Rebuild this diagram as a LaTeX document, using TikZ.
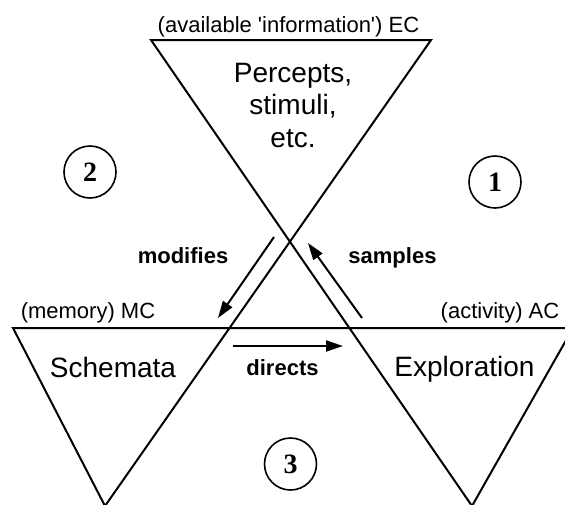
\documentclass[tikz,border=0pt]{standalone}
\usepackage{fontspec}
\setmainfont{Liberation Sans}
\newfontfamily\plainfont{Liberation Sans}
\newfontfamily\numfont{Liberation Serif}
\usetikzlibrary{arrows.meta}
\begin{document}
\begin{tikzpicture}[x=1pt,y=-1pt,
  tri/.style={line width=2pt, line join=miter},
  flow/.style={line width=2pt, -{Triangle[length=17pt,width=11pt]}},
  lab/.style={font=\fontsize{22}{26}\selectfont\plainfont, anchor=base, inner sep=0pt},
  blab/.style={font=\fontsize{22}{26}\selectfont\bfseries, anchor=base, inner sep=0pt},
  big/.style={font=\fontsize{28}{32.5}\selectfont, align=center, inner sep=0pt},
  num/.style={circle, draw, line width=1.6pt, minimum size=52pt, inner sep=0pt,
              font=\fontsize{28}{28}\selectfont\numfont\bfseries}]
\useasboundingbox (0,0) rectangle (565,504);
\begin{scope}
\clip (0,0) rectangle (565,504);
\draw[tri] (13,328) -- (105,506) -- (431,40) -- (151,40) -- (472,506) -- (573,328) -- cycle;
\end{scope}
% labels
\node[lab] (ec) at (288.5,32) {(available 'information') EC};
\node[lab] (mc) at (88,318) {(memory) MC};
\node[lab] (ac) at (500,318) {(activity) AC};
\node[big, anchor=base] (perc) at (293,147) {Percepts,\\stimuli,\\etc.};
\node[big, anchor=base] (sch) at (113,377) {Schemata};
\node[big, anchor=base] (exp) at (464.5,376) {Exploration};
\node[blab] (mod) at (183,263) {modifies};
\node[blab] (samp) at (392.5,263) {samples};
\node[blab] (dir) at (282.5,375) {directs};
% circled numbers
\node[num] (n1) at (495,182) {1};
\node[num] (n2) at (90,172) {2};
\node[num] (n3) at (290.5,464) {3};
% arrows
\coordinate (m1) at (274,237);
\coordinate (m2) at (218,318);
\coordinate (s1) at (362,318);
\coordinate (s2) at (308,243);
\coordinate (d1) at (233,346);
\coordinate (d2) at (343,346);
\draw[flow] (m1) -- (m2);
\draw[flow] (s1) -- (s2);
\draw[flow] (d1) -- (d2);
\end{tikzpicture}
\end{document}
